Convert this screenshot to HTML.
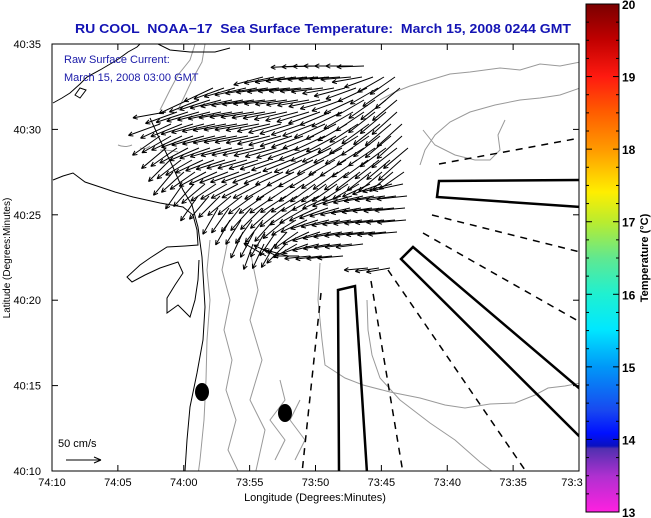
<!DOCTYPE html>
<html><head><meta charset="utf-8"><style>
html,body{margin:0;padding:0;background:#fff;}
svg{display:block;font-family:"Liberation Sans",sans-serif;}
</style></head><body>
<svg id="map" width="651" height="518" viewBox="0 0 651 518">
<defs>
<linearGradient id="cbar" x1="0" y1="0" x2="0" y2="1">
<stop offset="0" stop-color="#7a0000"/>
<stop offset="0.07" stop-color="#c00000"/>
<stop offset="0.143" stop-color="#ff1a10"/>
<stop offset="0.21" stop-color="#ff5a00"/>
<stop offset="0.286" stop-color="#ff9a00"/>
<stop offset="0.37" stop-color="#ffee00"/>
<stop offset="0.43" stop-color="#b8ec30"/>
<stop offset="0.5" stop-color="#60e890"/>
<stop offset="0.57" stop-color="#20f0d0"/>
<stop offset="0.64" stop-color="#00e8ff"/>
<stop offset="0.714" stop-color="#0098f8"/>
<stop offset="0.8" stop-color="#1848f0"/>
<stop offset="0.845" stop-color="#0010ff"/>
<stop offset="0.87" stop-color="#0a10c0"/>
<stop offset="0.875" stop-color="#5030b0"/>
<stop offset="0.93" stop-color="#b030d0"/>
<stop offset="1" stop-color="#ff20e0"/>
</linearGradient>
<clipPath id="plotclip"><rect x="52" y="44" width="527" height="427"/></clipPath>
</defs>

<text x="323" y="33" text-anchor="middle" font-size="13" font-weight="bold" fill="#1414b4" style="white-space:pre" textLength="496" lengthAdjust="spacingAndGlyphs">RU COOL  NOAA−17  Sea Surface Temperature:  March 15, 2008 0244 GMT</text>

<g clip-path="url(#plotclip)">
<g fill="none" stroke="#999" stroke-width="1">
<path d="M580,62 L560,66 L540,64 L520,70 L500,68 L470,72 L450,74 L430,80 L410,86 L395,92 L380,100"/>
<path d="M580,88 L560,95 L540,98 L520,100 L495,105 L470,112 L450,122 L435,135 L425,150 L420,165"/>
<path d="M423,130 L435,145 L455,155 L475,160 L490,160 L500,150 L498,135 L505,120"/>
<path d="M320,263 L318,300 L322,340 L325,365 L345,378 L363,385 L390,392 L420,398 L445,405 L465,408 L490,404 L515,403 L535,395 L548,388 L565,386 L580,383"/>
<path d="M367,300 L368,330 L372,355 L380,378 L400,400 L430,423 L455,440 L480,462 L497,475"/>
<path d="M210,240 L207,270 L210,300 L207,340 L206,380 L204,420 L200,460 L198,475"/>
<path d="M228,240 L222,270 L230,300 L224,330 L232,360 L226,390 L236,420 L228,450 L240,475"/>
<path d="M250,250 L258,290 L250,320 L262,360 L250,400 L265,430 L255,475"/>
<path d="M195,44 L190,60 L178,75 L170,90 L160,110"/>
<path d="M205,44 L202,62 L192,80 L185,95 L178,110"/>
<path d="M118,145 Q125,148 132,145 M140,148 Q146,150 150,146 M160,150 Q170,150 178,152"/>
<path d="M280,380 L285,400 L270,420 L285,440 L275,460"/>
<path d="M300,400 L290,420 L305,440 L295,460"/>
</g>
<g fill="none" stroke="#000" stroke-width="1">
<path d="M53,103 L62,98 L70,93 L80,84 L87,77 L100,70 L117,60 L128,52 L137,47 L140,44"/>
<path d="M75,95 L80,88 L86,90 L80,98 Z"/>
<path d="M150,118 L160,140 L172,165 L183,190 L192,205 L198,227 L202,257 L205,307 L203,340 L197,373 L190,407 L187,440 L185,471"/>
<path d="M53,180 L63,176 L73,173 L85,182 L100,187 L115,192 L133,197 L160,203 L183,207 L193,215 L197,230 L198,245 L185,246 L167,247 L150,258 L140,265 L127,277 L132,282 L145,275 L160,268 L178,262 L183,273 L175,285 L167,298 L167,313 L178,305 L183,310 L190,317 L195,300 L198,280 L199,260"/>
<path d="M158,44 L170,50 L190,52 L215,52 L230,48"/>
</g>
<g fill="none" stroke="#000" stroke-width="2.5">
<path d="M580,180 L439,181 L437,197 L580,207"/>
<path d="M580,389 L413,247 L401,259 L580,437"/>
<path d="M339,473 L338,290 L355,286 L367,473"/>
</g>
<g fill="none" stroke="#000" stroke-width="1.5" stroke-dasharray="7,6">
<path d="M439,164 L580,138"/>
<path d="M432,215 L580,252"/>
<path d="M423,233 L580,322"/>
<path d="M388,270 L527,473"/>
<path d="M371,281 L403,473"/>
<path d="M321,293 L302,473"/>
</g>
<ellipse cx="202" cy="392" rx="7" ry="9" fill="#000"/>
<ellipse cx="285" cy="413" rx="7" ry="9" fill="#000"/>
<g id="arrows" stroke="#000" stroke-width="1" fill="none"></g>
</g>

<text x="64" y="63" font-size="11" fill="#1a1aa8">Raw Surface Current:</text>
<text x="64" y="81" font-size="11" fill="#1a1aa8">March 15, 2008 03:00 GMT</text>
<text x="58" y="447" font-size="11" fill="#000">50 cm/s</text>
<g stroke="#000" stroke-width="1">
<line x1="66" y1="460" x2="101" y2="460"/><line x1="101" y1="460" x2="94" y2="457"/><line x1="101" y1="460" x2="94" y2="463"/>
</g>

<rect x="52" y="44" width="527" height="427" fill="none" stroke="#000" stroke-width="1"/>
<g id="axes"></g>
<text x="315" y="501" text-anchor="middle" font-size="11">Longitude (Degrees:Minutes)</text>
<text transform="translate(10,258) rotate(-90)" text-anchor="middle" font-size="10">Latitude (Degrees:Minutes)</text>

<rect x="586" y="4" width="33" height="508" fill="url(#cbar)" stroke="#000" stroke-width="1"/>
<g id="cbticks"></g>
<text transform="translate(648,258) rotate(-90)" text-anchor="middle" font-size="11" font-weight="bold">Temperature (°C)</text>
</svg>
<script>
var xTickLabels = ["74:10","74:05","74:00","73:55","73:50","73:45","73:40","73:35","73:3"];
var yTickLabels = ["40:35","40:30","40:25","40:20","40:15","40:10"];
var cbLabels = [20,19,18,17,16,15,14,13];
var rowY = [66,77,88,100,112,124,136,148,160,172,184,196,208,220,232,244,256,268];
var rowX0 = [290,255,205,180,158,152,152,158,162,165,175,190,210,222,235,245,258,360];
var rowSpeed = [34,38,40,40,42,42,42,40,38,38,38,38,38,36,36,34,32,30];
var rowDirs = [
[183,182,181,180,180,180,182],
[195,192,190,188,186,185,185,184,185,190,200,210,215],
[205,200,196,193,190,188,187,186,186,186,187,190,195,200,205,210,215,220],
[205,202,198,195,192,190,188,187,187,188,189,190,192,196,200,205,210,215,218,220],
[190,200,198,196,194,192,190,189,189,190,191,193,195,197,200,203,206,210,214,218,220,222],
[200,205,202,198,195,193,191,190,190,191,193,195,197,199,201,204,207,210,213,216,218,220,222],
[215,210,205,200,196,194,192,191,191,192,194,196,198,200,202,205,208,210,212,215,218,220,222],
[220,215,208,203,199,196,194,193,193,194,196,198,200,202,204,206,208,210,212,214,216,218,220],
[225,218,210,205,201,198,196,196,197,198,200,202,204,206,208,210,212,214,216,218,220,222],
[230,222,215,208,204,201,200,200,201,203,205,207,209,211,213,215,216,217,218,220,220,215],
[235,228,220,214,210,208,207,208,210,212,214,215,216,216,215,213,210,205,200,195,192],
[235,230,225,220,218,216,215,214,213,212,210,208,205,200,196,193,190,188,188,186],
[240,235,232,228,225,222,218,214,210,205,200,196,193,190,188,186,186,185],
[240,238,235,232,228,220,212,205,198,194,191,189,188,187,186,185,185],
[245,242,240,236,228,215,205,198,193,190,188,187,186,186,185],
[250,245,240,225,210,200,194,190,188,187,187],
[150,155,165,180,186,187,186,185],
[185,188,190]
];
var NS = "http://www.w3.org/2000/svg";
var colStep = 11, pxPerCm = 0.8;
var x0 = 52, x1 = 579, y0 = 44, y1 = 471;
function xPos(i){ return x0 + i*(x1-x0)/8; }
function yPos(i){ return y0 + i*(y1-y0)/5; }
function cbY(v){ return 4 + (20 - v)*(508/7); }
function mk(tag, attrs){ var e = document.createElementNS(NS, tag); for (var k in attrs) e.setAttribute(k, attrs[k]); return e; }

var ag = document.getElementById('arrows');
for (var r = 0; r < rowY.length; r++) {
  for (var c = 0; c < rowDirs[r].length; c++) {
    var x = rowX0[r] + c*colStep + 8, y = rowY[r];
    var a = rowDirs[r][c]*Math.PI/180, L = rowSpeed[r]*pxPerCm;
    var hx = x + L*Math.cos(a), hy = y - L*Math.sin(a);
    var p = mk('path', {d: 'M'+x+','+y+' L'+hx+','+hy+
      ' M'+hx+','+hy+' L'+(hx-5*Math.cos(a-0.45))+','+(hy+5*Math.sin(a-0.45))+
      ' M'+hx+','+hy+' L'+(hx-5*Math.cos(a+0.45))+','+(hy+5*Math.sin(a+0.45))});
    
    
    ag.appendChild(p);
  }
}

var ax = document.getElementById('axes');
for (var i = 0; i < xTickLabels.length; i++) {
  var X = xPos(i);
  if (i > 0 && i < 8) {
    var t1 = mk('line', {x1:X, y1:471, x2:X, y2:465, stroke:'#000'});
    
    
    ax.appendChild(t1);
    var t2 = mk('line', {x1:X, y1:44, x2:X, y2:50, stroke:'#000'});
    
    
    ax.appendChild(t2);
  }
  var lx = i === 8 ? 572 : X;
  var tx = mk('text', {x:lx, y:486, 'text-anchor':'middle', 'font-size':'11'});
  tx.textContent = xTickLabels[i];
  
  
  ax.appendChild(tx);
}
for (var j = 0; j < yTickLabels.length; j++) {
  var Y = yPos(j);
  if (j > 0 && j < 5) {
    var u1 = mk('line', {x1:52, y1:Y, x2:58, y2:Y, stroke:'#000'});
    
    
    ax.appendChild(u1);
    var u2 = mk('line', {x1:573, y1:Y, x2:579, y2:Y, stroke:'#000'});
    
    
    ax.appendChild(u2);
  }
  var ty = mk('text', {x:41, y:Y+4, 'text-anchor':'end', 'font-size':'11'});
  ty.textContent = yTickLabels[j];
  
  
  ax.appendChild(ty);
}

var cb = document.getElementById('cbticks');
for (var v = 13; v <= 20; v += 0.25) {
  var yy = cbY(v), major = Math.abs(v - Math.round(v)) < 1e-6, len = major ? 6 : 3;
  var k1 = mk('line', {x1:586, y1:yy, x2:586+len, y2:yy, stroke:'#000'});
  
  
  cb.appendChild(k1);
  var k2 = mk('line', {x1:619-len, y1:yy, x2:619, y2:yy, stroke:'#000'});
  
  
  cb.appendChild(k2);
}
for (var m = 0; m < cbLabels.length; m++) {
  var cl = mk('text', {x:622, y:cbY(cbLabels[m])+5, 'font-size':'12', 'font-weight':'bold'});
  cl.textContent = cbLabels[m];
  
  
  cb.appendChild(cl);
}
</script>
</body></html>
